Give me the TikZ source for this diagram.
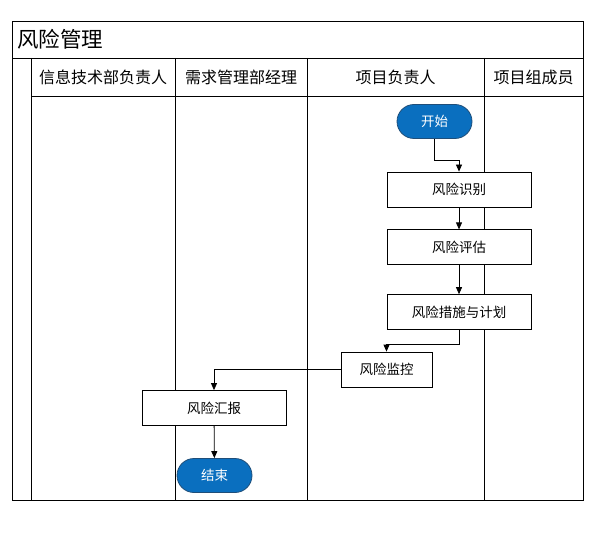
\documentclass[tikz,border=0pt]{standalone}
\usepackage{fontspec}
\setmainfont{Noto Sans CJK SC}
\usepackage{xcolor}
\usepackage{tikz}
\usetikzlibrary{positioning, arrows.meta}

\definecolor{termfill}{HTML}{0A6FBF}
\definecolor{termdraw}{HTML}{1F4E79}

\begin{document}
\begin{tikzpicture}[
  x=1pt, y=-1pt,
  every node/.style={align=center, inner sep=2pt},
  lane/.style={draw, line width=0.8pt},
  head/.style={font=\fontsize{16}{18}\selectfont},
  term/.style={draw=termdraw, fill=termfill, text=white, rectangle, rounded corners=17pt, minimum height=34pt, minimum width=75pt, line width=0.8pt, font=\fontsize{13.5}{15}\selectfont},
  proc/.style={draw, fill=white, rectangle, minimum height=35pt, minimum width=144pt, line width=0.8pt, font=\fontsize{13.5}{15}\selectfont},
  arr/.style={-{Triangle[length=7pt,width=6pt]}, line width=0.8pt}
]
\useasboundingbox (0,0) rectangle (615,537);
% swimlanes
\draw[lane] (12,21) rectangle (583,500);
\draw[lane] (12,58) -- (583,58);
\draw[lane] (31,96) -- (583,96);
\foreach \xl in {31,175,307,484} \draw[lane] (\xl,58) -- (\xl,500);
\node[anchor=west, font=\fontsize{21.5}{23}\selectfont] (title) at (15,39) {风险管理};
\node[head] (itlead) at (103,77) {信息技术部负责人};
\node[head] (reqmgr) at (241,77) {需求管理部经理};
\node[head] (pmlead) at (395.5,77) {项目负责人};
\node[head] (member) at (533.5,77) {项目组成员};

% flow
\node[term] (start) at (434.5,121.5) {开始};
\node[proc] (ident) at (459,189.5) {风险识别};
\node[proc, below=22pt of ident] (assess) {风险评估};
\node[proc, below=29pt of assess] (plan) {风险措施与计划};
\node[proc, minimum width=91pt] (monitor) at (386.5,369.5) {风险监控};
\node[proc] (report) at (214,408) {风险汇报};
\node[term] (finish) at (214.5,475.5) {结束};

\draw[arr] (start.south) -- ++(0,22) -| (ident.north);
\draw[arr] (ident) -- (assess);
\draw[arr] (assess) -- (plan);
\draw[arr] (plan.south) -- ++(0,14) -| (monitor.north);
\draw[arr] (monitor.west) -| (report.north);
\draw[arr] (report) -- (finish);
\end{tikzpicture}
\end{document}
